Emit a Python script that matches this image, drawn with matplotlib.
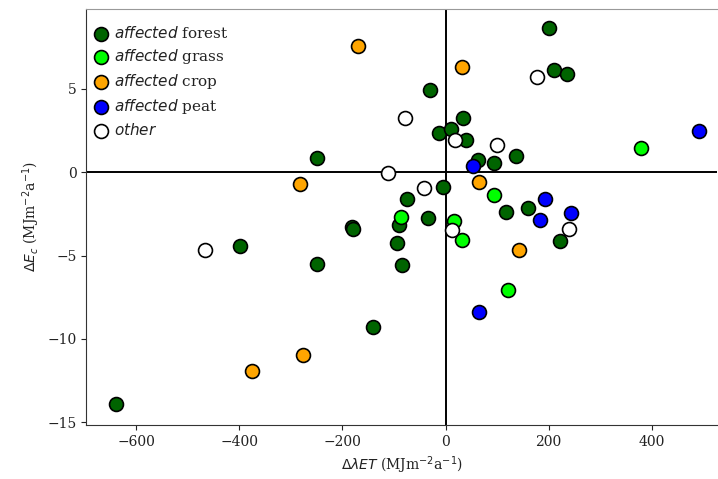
import matplotlib
matplotlib.use("Agg")
import matplotlib.pyplot as plt

plt.rcParams['font.family'] = 'DejaVu Serif'
plt.rcParams['mathtext.fontset'] = 'dejavusans'

# values (dlambdaET, dEc)
forest_x = [-639, -398, -249, -249, -181, -179, -141, -94, -91, -84, -74, -34, -31, -13, -5,
            10, 34, 39, 62, 93, 117, 137, 159, 200, 210, 222, 235]
forest_y = [-13.9, -4.4, -5.5, 0.87, -3.3, -3.4, -9.28, -4.27, -3.19, -5.57, -1.63, -2.77, 4.95,
            2.36, -0.87, 2.6, 3.26, 1.96, 0.76, 0.56, -2.4, 0.96, -2.13, 8.66, 6.15, -4.13, 5.9]
grass_x = [-87, 16, 32, 94, 122, 379]
grass_y = [-2.67, -2.93, -4.07, -1.34, -7.07, 1.48]
crop_x = [-375, -276, -282, -169, 31, 64, 142]
crop_y = [-11.9, -10.95, -0.7, 7.58, 6.33, -0.6, -4.69]
peat_x = [53, 65, 183, 193, 244, 491]
peat_y = [0.36, -8.36, -2.87, -1.58, -2.43, 2.49]
other_x = [-466, -111, -78, -42, 12, 18, 99, 177, 239]
other_y = [-4.68, -0.04, 3.26, -0.94, -3.49, 1.92, 1.66, 5.72, -3.39]

groups = [
    (forest_x, forest_y, 'darkgreen', r'$\it{affected}$ forest'),
    (grass_x, grass_y, 'lime', r'$\it{affected}$ grass'),
    (crop_x, crop_y, 'orange', r'$\it{affected}$ crop'),
    (peat_x, peat_y, 'blue', r'$\it{affected}$ peat'),
    (other_x, other_y, 'white', r'$\it{other}$'),
]

fig = plt.figure(figsize=(7.18, 4.79), dpi=100)
ax = fig.add_axes([0.12, 0.113, 0.879, 0.868])

ax.axhline(0, color='black', lw=1.4, zorder=1)
ax.axvline(0, color='black', lw=1.4, zorder=1)

for xs, ys, c, lab in groups:
    ax.scatter(xs, ys, s=100, c=c, edgecolors='black', linewidths=1.2, label=lab, zorder=3)

ax.set_xlim(-697, 527)
ax.set_ylim(-15.15, 9.78)
ax.set_xticks([-600, -400, -200, 0, 200, 400])
ax.set_yticks([-15, -10, -5, 0, 5])
ax.tick_params(labelsize=10, colors='#222222')
ax.spines['right'].set_visible(False)
ax.spines['top'].set_color('#999999')
for s in ['left', 'bottom']:
    ax.spines[s].set_color('#333333')

ax.set_xlabel(r'$\Delta\lambda ET$ (MJm$^{-2}$a$^{-1}$)', fontsize=10, color='#222222')
ax.set_ylabel(r'$\Delta E_c$ (MJm$^{-2}$a$^{-1}$)', fontsize=10, color='#222222')

leg = ax.legend(loc='upper left', bbox_to_anchor=(-0.005, 0.988), frameon=False,
                fontsize=11, handletextpad=0.3, handlelength=1.0, labelspacing=0.4,
                borderaxespad=0.2, borderpad=0.5)
for t in leg.get_texts():
    t.set_color('#222222')

fig.savefig('out.png', dpi=100)
